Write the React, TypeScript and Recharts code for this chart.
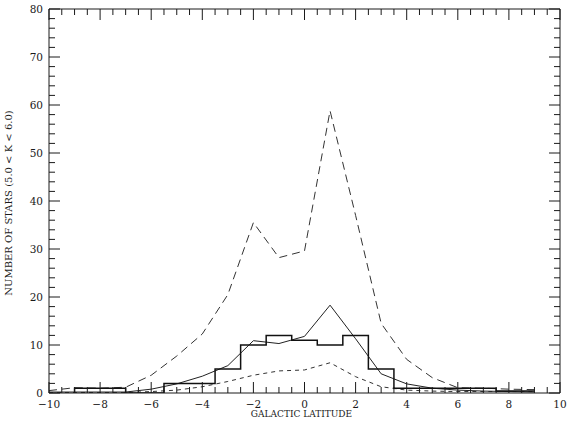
import React from 'react';
import { LineChart, Line, XAxis, YAxis } from 'recharts';

// Galactic latitude grid of the model curves
const latitude = [-10, -9, -8, -7, -6, -5, -4, -3, -2, -1, 0, 1, 2, 3, 4, 5, 6, 7, 8, 9];
// Long-dashed model
const upperModel = [0.5, 1.1, 1.0, 1.2, 3.7, 7.7, 12.3, 20.5, 35.5, 28.2, 29.6, 58.8, 37.0, 14.5, 7.0, 3.2, 1.1, 1.0, 0.8, 0.7];
// Thin solid model
const middleModel = [0.2, 0.2, 0.2, 0.2, 0.8, 1.9, 3.5, 5.7, 10.9, 10.3, 11.8, 18.3, 11.3, 4.0, 1.9, 1.0, 0.6, 0.4, 0.3, 0.2];
// Short-dashed model
const lowerModel = [0.1, 0.1, 0.1, 0.1, 0.3, 0.6, 1.3, 2.4, 3.7, 4.6, 4.8, 6.3, 3.4, 1.3, 0.6, 0.4, 0.3, 0.3, 0.3, 0.3];
// Observed histogram (bin edges and counts)
const histEdges = [-9, -7, -5.5, -3.5, -2.5, -1.5, -0.5, 0.5, 1.5, 2.5, 3.5, 7.5, 9];
const histCounts = [1, 0, 2, 5, 10, 12, 11, 10, 12, 5, 1, 0.4];

// Axes
const xMajorTicks = [-10, -8, -6, -4, -2, 0, 2, 4, 6, 8, 10];
const yMajorTicks = [0, 10, 20, 30, 40, 50, 60, 70, 80];
const xTicks: number[] = [];
for (let i = 0; i < xMajorTicks.length - 1; i++) {
  for (let k = 0; k < 4; k++) xTicks.push(xMajorTicks[i] + k * 0.5);
}
xTicks.push(xMajorTicks[xMajorTicks.length - 1]);
const yTicks: number[] = [];
for (let i = 0; i < yMajorTicks.length - 1; i++) {
  for (let k = 0; k < 5; k++) yTicks.push(yMajorTicks[i] + k * 2);
}
yTicks.push(yMajorTicks[yMajorTicks.length - 1]);

const xTitle = 'GALACTIC LATITUDE';
const yTitle = 'NUMBER OF STARS (5.0 < K < 6.0)';

const upperData = latitude.map((x, i) => ({ x, y: upperModel[i] }));
const middleData = latitude.map((x, i) => ({ x, y: middleModel[i] }));
const lowerData = latitude.map((x, i) => ({ x, y: lowerModel[i] }));
const histData = [
  { x: histEdges[0], y: 0 },
  ...histEdges.map((x, i) => ({ x, y: histCounts[Math.min(i, histCounts.length - 1)] })),
];

const INK = '#1a1a1a';
const FONT = '"DejaVu Serif", "Liberation Serif", serif';

const fmt = (v: number) => (v < 0 ? '\u2212' + Math.abs(v) : String(v));
const isMajorX = (v: number) => xMajorTicks.indexOf(v) >= 0;
const isMajorY = (v: number) => yMajorTicks.indexOf(v) >= 0;

const BottomTick = (props: any) => {
  const { x, y, payload } = props;
  const v = payload.value;
  const major = isMajorX(v);
  return (
    <g>
      <line x1={x} x2={x} y1={y} y2={y - (major ? 11 : 6)} stroke={INK} strokeWidth={1} />
      {major && (
        <text x={x} y={y + 15} textAnchor="middle" fontFamily={FONT} fontSize={10.5} fill={INK}>
          {fmt(v)}
        </text>
      )}
    </g>
  );
};

const TopTick = (props: any) => {
  const { x, y, payload } = props;
  const major = isMajorX(payload.value);
  return <line x1={x} x2={x} y1={y} y2={y + (major ? 11 : 6)} stroke={INK} strokeWidth={1} />;
};

const LeftTick = (props: any) => {
  const { x, y, payload } = props;
  const v = payload.value;
  const major = isMajorY(v);
  return (
    <g>
      <line x1={x} x2={x + (major ? 11 : 6)} y1={y} y2={y} stroke={INK} strokeWidth={1} />
      {major && (
        <text x={x - 6} y={y + 4} textAnchor="end" fontFamily={FONT} fontSize={10.5} fill={INK}>
          {fmt(v)}
        </text>
      )}
    </g>
  );
};

const RightTick = (props: any) => {
  const { x, y, payload } = props;
  const major = isMajorY(payload.value);
  return <line x1={x} x2={x - (major ? 11 : 6)} y1={y} y2={y} stroke={INK} strokeWidth={1} />;
};

const XTitle = (props: any) => {
  const vb = props.viewBox || {};
  return (
    <text x={vb.x + vb.width / 2 - 3} y={vb.y + 24} textAnchor="middle" fontFamily={FONT} fontSize={9} fill={INK}>
      {xTitle}
    </text>
  );
};

const YTitle = (props: any) => {
  const vb = props.viewBox || {};
  const cx = vb.x + 12;
  const cy = vb.y + vb.height / 2 + 2;
  return (
    <text x={cx} y={cy} transform={`rotate(-90 ${cx} ${cy})`} textAnchor="middle" fontFamily={FONT} fontSize={10} fill={INK}>
      {yTitle}
    </text>
  );
};

export default function App() {
  return (
    <LineChart
      width={570}
      height={427}
      margin={{ top: 8, right: 9, bottom: 0, left: 0 }}
      style={{ position: 'absolute', left: 0, top: 0, background: '#fff' }}
    >
      <XAxis
        xAxisId="bottom"
        dataKey="x"
        type="number"
        orientation="bottom"
        domain={[-10, 10]}
        allowDataOverflow
        ticks={xTicks}
        interval={0}
        height={34}
        tickSize={0}
        tickMargin={0}
        tickLine={false}
        tick={<BottomTick />}
        axisLine={{ stroke: INK, strokeWidth: 1 }}
        label={<XTitle />}
      />
      <XAxis
        xAxisId="top"
        dataKey="x"
        type="number"
        orientation="top"
        domain={[-10, 10]}
        allowDataOverflow
        ticks={xTicks}
        interval={0}
        height={1}
        tickSize={0}
        tickMargin={0}
        tickLine={false}
        tick={<TopTick />}
        axisLine={{ stroke: INK, strokeWidth: 1 }}
      />
      <YAxis
        yAxisId="left"
        type="number"
        orientation="left"
        domain={[0, 80]}
        allowDataOverflow
        ticks={yTicks}
        interval={0}
        width={49}
        tickSize={0}
        tickMargin={0}
        tickLine={false}
        tick={<LeftTick />}
        axisLine={{ stroke: INK, strokeWidth: 1 }}
        label={<YTitle />}
      />
      <YAxis
        yAxisId="right"
        type="number"
        orientation="right"
        domain={[0, 80]}
        allowDataOverflow
        ticks={yTicks}
        interval={0}
        width={1}
        tickSize={0}
        tickMargin={0}
        tickLine={false}
        tick={<RightTick />}
        axisLine={{ stroke: INK, strokeWidth: 1 }}
      />
      <Line
        xAxisId="bottom"
        yAxisId="left"
        data={upperData}
        dataKey="y"
        type="linear"
        stroke="#333"
        strokeWidth={1}
        strokeDasharray="8 5"
        dot={false}
        isAnimationActive={false}
      />
      <Line
        xAxisId="bottom"
        yAxisId="left"
        data={lowerData}
        dataKey="y"
        type="linear"
        stroke="#333"
        strokeWidth={1}
        strokeDasharray="4 4"
        dot={false}
        isAnimationActive={false}
      />
      <Line
        xAxisId="top"
        yAxisId="right"
        data={middleData}
        dataKey="y"
        type="linear"
        stroke="#222"
        strokeWidth={1}
        dot={false}
        isAnimationActive={false}
      />
      <Line
        xAxisId="bottom"
        yAxisId="left"
        data={histData}
        dataKey="y"
        type="stepAfter"
        stroke="#111"
        strokeWidth={1.5}
        dot={false}
        isAnimationActive={false}
      />
    </LineChart>
  );
}
